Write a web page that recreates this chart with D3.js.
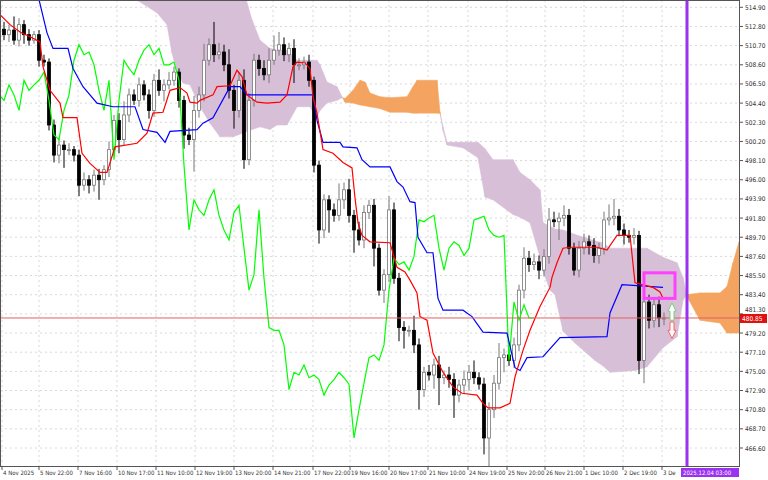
<!DOCTYPE html>
<html><head><meta charset="utf-8">
<script src="https://cdn.jsdelivr.net/npm/d3@7"></script>
<style>body{margin:0;background:#fff}svg{display:block}text{font-family:"DejaVu Sans Condensed","DejaVu Sans",sans-serif}</style>
</head><body><svg id="c" width="768" height="480"></svg>
<script>
const closes=[511.9,512.4,511.3,513.0,511.9,511.3,511.9,509.1,508.9,502.0,498.7,499.8,499.3,499.3,498.7,495.4,496.0,495.4,496.5,496.0,497.1,499.3,502.5,500.4,503.1,505.3,504.7,506.4,505.3,503.6,506.9,505.8,506.4,506.9,507.8,504.7,500.9,500.4,503.6,505.3,509.1,510.8,509.7,510.0,508.6,505.8,503.6,506.9,498.2,504.7,509.1,508.2,507.5,509.1,510.2,510.8,509.7,510.4,508.6,508.6,508.9,506.9,497.6,490.5,493.8,492.7,492.1,493.8,494.9,492.1,490.5,489.4,492.4,493.2,488.5,483.9,485.6,492.7,485.2,479.8,479.5,479.5,477.9,473.0,474.9,474.6,475.7,474.3,474.6,474.1,472.4,473.5,474.1,474.9,474.3,473.6,467.7,470.8,473.7,476.5,476.8,476.2,477.9,483.9,487.4,486.7,487.0,486.1,487.6,491.6,491.4,491.8,492.1,488.5,486.1,488.5,489.2,488.8,487.7,488.5,491.6,491.8,492.0,490.5,489.9,489.7,489.9,476.2,482.6,480.6,482.3,480.85,480.85];
const wickHi=[0.8,0.6,1.5,0.7,0.5,0.6,0.4,0.5,0.6,0.4,0.6,0.8,0.5,0.7,0.4,0.6,0.8,0.5,0.6,0.7,0.5,0.9,0.6,0.8,1.5,0.7,0.6,0.8,0.5,0.6,0.7,1.2,0.6,0.9,0.6,0.4,0.5,0.8,1.6,0.9,1.8,0.7,2.5,1.0,0.8,1.7,0.6,0.9,1.2,0.8,0.7,0.6,0.9,1.3,1.6,1.4,0.8,0.6,1.0,0.7,0.6,0.8,0.4,0.5,0.6,0.5,0.7,1.8,0.8,1.2,0.6,0.9,0.8,0.6,0.7,0.5,0.6,1.5,0.8,0.6,0.7,0.5,1.6,0.7,0.6,0.8,0.7,1.0,0.5,0.9,0.7,0.6,1.0,0.8,1.3,0.6,0.7,0.8,0.9,1.6,0.7,0.6,0.8,0.6,1.2,0.8,0.9,0.7,0.8,1.3,0.9,0.6,1.1,0.7,0.6,0.8,0.9,0.7,0.8,0.6,0.9,1.5,1.9,0.8,0.7,0.6,0.8,0.5,0.9,0.8,0.7,0.9,0.6];
const wickLo=[0.6,0.8,0.5,0.7,1.0,0.6,0.4,0.7,0.5,0.6,0.8,0.9,2.0,0.6,0.7,1.2,0.6,0.9,0.7,2.2,0.6,0.8,0.7,1.5,0.6,0.8,0.5,0.7,0.6,0.9,0.7,0.6,1.2,0.5,0.6,0.8,1.5,0.6,3.5,0.8,0.7,0.6,0.8,0.5,0.7,0.9,2.0,0.8,1.0,0.6,0.7,0.8,0.6,0.9,0.5,0.6,0.7,0.8,2.0,0.6,0.5,0.7,0.8,1.5,0.9,2.5,0.7,0.6,1.0,0.8,2.5,0.6,0.9,0.7,2.0,0.6,1.4,0.8,0.6,1.5,2.0,0.7,0.9,2.2,0.8,0.6,1.5,3.0,0.7,0.9,2.5,0.8,1.0,1.2,0.7,0.6,1.8,3.5,0.9,0.7,1.6,0.6,0.8,0.7,0.9,0.8,0.6,1.0,0.7,0.8,0.6,2.0,0.9,0.7,0.6,0.8,0.7,1.0,0.8,0.9,0.7,0.6,0.8,0.7,1.0,0.6,0.8,1.5,2.5,0.9,0.8,1.0,0.8];
const tenkan=[[-0.8,514.1],[1.2,513.0],[3.2,512.2],[5.8,511.5],[7.2,511.1],[7.8,508.4],[9.2,505.8],[11.2,504.4],[11.8,502.8],[14.6,502.8],[15.6,498.9],[17.2,497.8],[19.2,496.8],[20.6,496.8],[22.2,499.6],[26.6,500.0],[28.6,501.1],[29.8,503.3],[31.8,503.4],[33.2,505.8],[35.2,506.1],[36.6,505.5],[37.2,504.5],[38.6,504.4],[39.2,504.7],[41.8,505.3],[42.6,506.2],[45.2,506.3],[46.6,508.0],[47.6,507.3],[48.6,505.3],[50.6,504.5],[52.6,504.4],[55.2,504.5],[56.6,505.3],[57.8,508.4],[58.6,508.9],[60.2,508.8],[61.2,508.2],[61.8,505.1],[62.6,503.3],[63.8,499.3],[65.8,498.9],[67.8,497.9],[69.6,497.3],[70.2,494.0],[70.8,491.3],[71.6,489.9],[73.2,489.2],[77.2,489.1],[78.6,486.4],[80.2,485.9],[81.2,485.0],[82.6,483.6],[83.2,481.0],[84.6,480.6],[85.8,477.0],[87.8,474.9],[89.8,473.3],[91.6,472.6],[94.6,472.4],[95.8,471.5],[96.8,471.0],[99.2,471.0],[101.2,471.5],[102.2,474.4],[103.8,477.3],[105.2,479.5],[107.2,482.1],[109.2,484.2],[109.6,485.3],[110.6,486.9],[111.8,488.5],[113.2,488.6],[118.6,488.6],[120.6,488.3],[122.6,489.9],[125.2,489.9],[126.2,484.7],[129.8,484.2],[131.2,483.7],[131.8,483.0]];
const kijun=[[6.8,516.2],[8.6,512.1],[9.8,510.4],[12.8,510.4],[13.8,508.2],[15.8,506.2],[18.6,504.4],[21.8,504.0],[26.2,504.0],[27.8,501.5],[30.6,501.2],[32.2,500.1],[33.2,501.3],[38.6,501.5],[39.8,502.2],[41.8,502.8],[45.2,506.2],[47.2,506.2],[48.6,505.3],[61.8,505.3],[62.6,502.5],[63.8,500.1],[67.2,500.1],[67.8,499.6],[70.6,499.5],[71.6,498.2],[73.2,497.4],[77.2,497.4],[78.6,495.8],[79.8,495.2],[81.2,493.6],[82.2,493.5],[82.8,489.7],[84.6,488.0],[85.8,488.0],[86.8,483.0],[87.8,481.7],[91.8,481.7],[93.6,481.0],[95.8,479.3],[100.6,479.2],[102.2,475.4],[103.2,475.1],[104.6,476.5],[107.8,476.6],[111.2,478.7],[120.6,478.8],[121.2,481.4],[123.6,484.5],[131.8,484.2]];
// cloud: [bar, spanA, spanB]
const cloud=[[26.6,515.7,517.9],[30.6,514.3,517.9],[32.6,513.0,517.9],[33.6,509.9,517.9],[34.6,507.8,517.9],[35.8,506.6,517.9],[37.2,506.4,517.3],[39.2,504.0,516.8],[41.2,502.2,516.8],[43.2,500.7,516.8],[45.8,500.7,516.8],[48.2,501.2,516.2],[49.6,501.5,513.5],[51.2,501.8,511.3],[53.2,501.5,510.4],[54.6,502.0,510.2],[56.6,502.0,510.2],[58.6,504.0,509.1],[61.2,504.0,509.1],[61.8,503.4,509.1],[62.6,502.9,509.1],[63.2,503.6,508.6],[64.6,504.4,506.7],[66.6,504.7,506.2],[67.6,505.0,505.1],[68.2,504.9,504.5],[69.8,505.8,504.4],[71.2,506.9,504.2],[72.2,506.7,504.1],[73.2,505.5,504.0],[75.2,505.1,503.8],[77.2,505.0,503.4],[80.6,505.1,503.4],[81.8,506.2,503.3],[82.6,506.9,503.3],[86.6,506.9,503.3],[87.2,503.4,503.3],[87.8,501.4,501.8],[88.6,499.8,500.1],[91.8,499.5,500.1],[94.8,498.4,500.1],[96.2,494.1,499.4],[97.8,493.8,498.2],[101.8,492.2,498.2],[103.2,491.9,496.8],[105.2,491.3,496.0],[107.2,487.5,494.9],[107.8,486.0,491.3],[109.2,483.9,490.9],[110.2,483.4,490.6],[111.8,479.4,490.5],[114.2,478.1,490.0],[118.2,476.2,489.3],[119.8,475.6,489.1],[121.2,474.9,488.5],[126.2,475.1,488.5],[128.6,475.5,488.5],[131.8,477.6,487.5],[134.6,478.8,486.9],[135.8,482.8,485.3],[136.6,483.4,483.2],[139.2,483.6,480.6],[143.2,483.6,480.3],[144.6,484.3,479.2],[145.8,486.9,479.2],[147.0,489.2,479.2]];
const priceTicks=[514.90,512.80,510.70,508.60,506.50,504.40,502.30,500.20,498.10,496.00,493.90,491.80,489.70,487.60,485.50,483.40,481.30,479.20,477.10,475.00,472.90,470.80,468.70,466.60];
const timeLabels=["4 Nov 2025","5 Nov 22:00","7 Nov 16:00","10 Nov 17:00","11 Nov 10:00","12 Nov 19:00","13 Nov 20:00","14 Nov 21:00","17 Nov 22:00","19 Nov 16:00","20 Nov 17:00","21 Nov 10:00","24 Nov 19:00","25 Nov 20:00","26 Nov 21:00","1 Dec 10:00","2 Dec 19:00","3 De"];
const timeBars=[0,7.4,15.2,23,30.8,38.6,46.4,54.2,62.2,69.6,77.4,85.2,93.2,101,108.6,116.4,124.2,132];
const lastPrice=480.85, markerBar=136.6, boxBars=[128,134.2], boxPrices=[485.8,483.0];

const svg=d3.select("#c");
const W=739,H=466;
const x=d3.scaleLinear().domain([0,1]).range([4,9]);
const y=d3.scaleLinear().domain([466.60,514.90]).range([448,7.3]);
const g=svg.append("g");
g.append("defs").append("clipPath").attr("id","cl").append("rect").attr("width",W).attr("height",H);
const p=g.append("g").attr("clip-path","url(#cl)");
priceTicks.forEach(t=>p.append("line").attr("x1",0).attr("x2",W).attr("y1",y(t)).attr("y2",y(t)).attr("stroke","#d8d8d8").attr("stroke-dasharray","2,3"));
timeBars.forEach(b=>p.append("line").attr("x1",x(b)-2).attr("x2",x(b)-2).attr("y1",0).attr("y2",H).attr("stroke","#d8d8d8").attr("stroke-dasharray","2,3"));
for(let i=0;i<cloud.length-1;i++){
  const a=cloud[i],b=cloud[i+1];
  const da=a[1]-a[2],db=b[1]-b[2];
  const polys=[];
  if(da*db<0){const t=da/(da-db);const xm=a[0]+t*(b[0]-a[0]);const ym=a[1]+t*(b[1]-a[1]);
    polys.push([[a[0],a[1]],[xm,ym],[a[0],a[2]],da>0]);polys.push([[xm,ym],[b[0],b[1]],[b[0],b[2]],db>0]);}
  else polys.push([[a[0],a[1]],[b[0],b[1]],[b[0],b[2]],[a[0],a[2]],(da+db)>0]);
  polys.forEach(pp=>{const bull=pp.pop();
    p.append("path").attr("d","M"+pp.map(q=>x(q[0])+","+y(q[1])).join("L")+"Z").attr("fill",bull?"#f4a460":"#d8bfd8").attr("stroke",bull?"#f4a460":"#d8bfd8").attr("stroke-width",0.6);});
}
closes.forEach((c,i)=>{
  const o=i?closes[i-1]:512.5;const hi=Math.max(o,c)+wickHi[i],lo=Math.min(o,c)-wickLo[i];
  const bull=c>=o,cx=x(i);
  p.append("line").attr("x1",cx).attr("x2",cx).attr("y1",y(hi)).attr("y2",y(lo)).attr("stroke",bull?"#777":"#000");
  const t=y(Math.max(o,c)),bt=y(Math.min(o,c));
  p.append("rect").attr("x",cx-1.5).attr("y",t).attr("width",3).attr("height",Math.max(1,bt-t)).attr("fill",bull?"#fff":"#000").attr("stroke",bull?"#777":"#000").attr("stroke-width",0.8);
});
const ln=d3.line().x(d=>x(d[0])).y(d=>y(d[1]));
p.append("path").attr("d",ln(closes.map((c,i)=>[i-26,c]).filter(d=>d[0]>=-2))).attr("fill","none").attr("stroke","#00ff00").attr("stroke-width",1.2);
p.append("path").attr("d",ln(kijun)).attr("fill","none").attr("stroke","#0000ff").attr("stroke-width",1.2);
p.append("path").attr("d",ln(tenkan)).attr("fill","none").attr("stroke","#ff0000").attr("stroke-width",1.2);
p.append("line").attr("x1",0).attr("x2",W).attr("y1",y(lastPrice)).attr("y2",y(lastPrice)).attr("stroke","#e06060").attr("stroke-width",1);
p.append("rect").attr("x",x(boxBars[0])).attr("y",y(boxPrices[0])).attr("width",x(boxBars[1])-x(boxBars[0])).attr("height",y(boxPrices[1])-y(boxPrices[0])).attr("fill","none").attr("stroke","#ff40ff").attr("stroke-width",3);
const ax=x(133.6);
p.append("path").attr("d",`M${ax-4},${y(481.6)} L${ax},${y(482.5)} L${ax+4},${y(481.6)} L${ax+2},${y(481.6)} L${ax+2},${y(480.6)} L${ax-2},${y(480.6)} L${ax-2},${y(481.6)}Z`).attr("fill","#fff").attr("stroke","#7ccd7c");
p.append("path").attr("d",`M${ax-4},${y(479.5)} L${ax},${y(478.6)} L${ax+4},${y(479.5)} L${ax+2},${y(479.5)} L${ax+2},${y(480.4)} L${ax-2},${y(480.4)} L${ax-2},${y(479.5)}Z`).attr("fill","#fff").attr("stroke","#ff6060");
p.append("line").attr("x1",x(markerBar)).attr("x2",x(markerBar)).attr("y1",0).attr("y2",H).attr("stroke","#9a32f0").attr("stroke-width",3);
g.append("rect").attr("x",0.5).attr("y",0.5).attr("width",W).attr("height",H).attr("fill","none").attr("stroke","#555");
priceTicks.forEach(t=>{g.append("line").attr("x1",W).attr("x2",W+4).attr("y1",y(t)).attr("y2",y(t)).attr("stroke","#555");
  g.append("text").attr("x",W+6).attr("y",y(t)+(Math.abs(y(t)-y(lastPrice))<6?-1.5:2.5)).attr("font-size",6.5).attr("fill","#333").text(t.toFixed(2));});
g.append("rect").attr("x",W+1).attr("y",y(lastPrice)-4).attr("width",27).attr("height",9).attr("fill","#e01010");
g.append("text").attr("x",W+3).attr("y",y(lastPrice)+3).attr("font-size",6.5).attr("fill","#fff").text(lastPrice.toFixed(2));
timeLabels.forEach((t,i)=>{const xx=x(timeBars[i])-2;g.append("line").attr("x1",xx).attr("x2",xx).attr("y1",H).attr("y2",H+4).attr("stroke","#555");
  g.append("text").attr("x",xx+1).attr("y",H+9).attr("font-size",6).attr("fill","#333").text(t);});
g.append("rect").attr("x",681).attr("y",H+2).attr("width",58).attr("height",9).attr("fill","#9a32f0");
g.append("text").attr("x",683).attr("y",H+9).attr("font-size",6).attr("fill","#fff").text("2025.12.04 03:00");
</script></body></html>
